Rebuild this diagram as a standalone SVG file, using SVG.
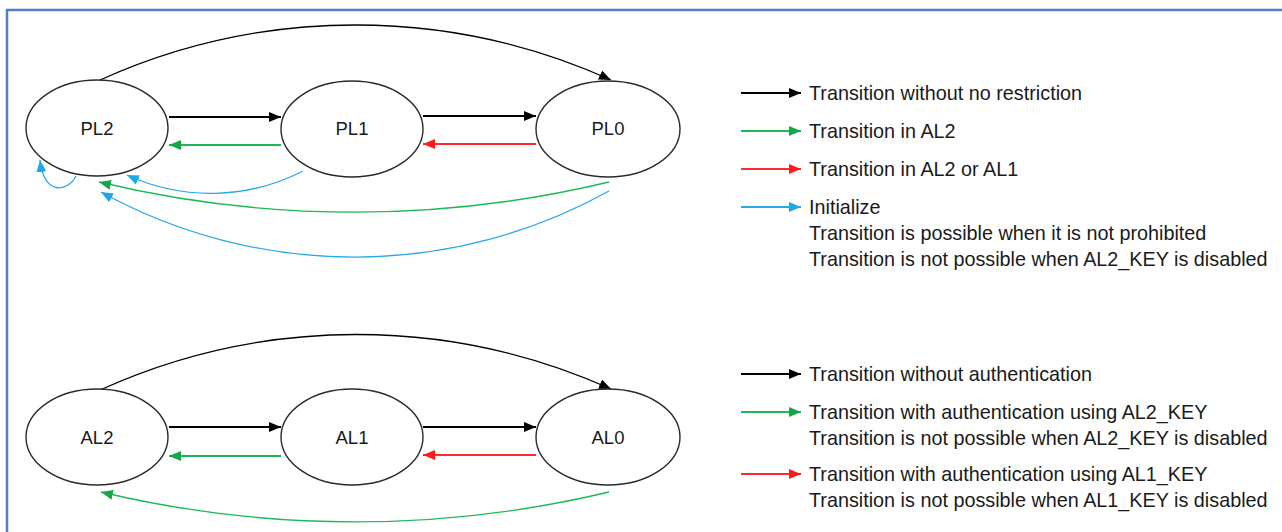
<svg xmlns="http://www.w3.org/2000/svg" width="1282" height="532" viewBox="0 0 1282 532">
  <style>
    .node { fill: #ffffff; stroke: #2a2a2a; stroke-width: 1.4; }
    .label { font-family: "Liberation Sans", Arial, sans-serif; font-size: 18.5px; fill: #1a1a1a; text-anchor: middle; }
    .legend { font-family: "Liberation Sans", Arial, sans-serif; font-size: 19.8px; fill: #1a1a1a; }
    .edge { fill: none; stroke-width: 2; }
    .curve { fill: none; stroke-width: 1.3; }
    .k { stroke: #000000; }
    .g { stroke: #1db954; }
    .r { stroke: #ff2a2a; }
    .b { stroke: #29a8e8; }
  </style>
  <defs>
    <marker id="ak" viewBox="0 0 12 10" refX="12" refY="5" markerWidth="12" markerHeight="10" markerUnits="userSpaceOnUse" orient="auto">
      <path d="M0,0 L12,5 L0,10 Z" fill="#000000"/>
    </marker>
    <marker id="ag" viewBox="0 0 12 10" refX="12" refY="5" markerWidth="12" markerHeight="10" markerUnits="userSpaceOnUse" orient="auto">
      <path d="M0,0 L12,5 L0,10 Z" fill="#12a84a"/>
    </marker>
    <marker id="ar" viewBox="0 0 12 10" refX="12" refY="5" markerWidth="12" markerHeight="10" markerUnits="userSpaceOnUse" orient="auto">
      <path d="M0,0 L12,5 L0,10 Z" fill="#ff1a1a"/>
    </marker>
    <marker id="ab" viewBox="0 0 12 10" refX="12" refY="5" markerWidth="12" markerHeight="10" markerUnits="userSpaceOnUse" orient="auto">
      <path d="M0,0 L12,5 L0,10 Z" fill="#1ea7ea"/>
    </marker>
  </defs>

  <rect width="1282" height="532" fill="#ffffff"/>
  <!-- frame -->
  <path d="M7,532 V10 H1282" fill="none" stroke="#4f81c2" stroke-width="2.5"/>

  <!-- connectors -->
  <g id="connectors">
    <!-- PL chain -->
    <path class="curve k" d="M100,80 A621,621 0 0 1 611,80" marker-end="url(#ak)"/>
    <line class="edge k" x1="169" y1="117" x2="281" y2="117" marker-end="url(#ak)"/>
    <line class="edge g" x1="281" y1="145" x2="169" y2="145" marker-end="url(#ag)"/>
    <line class="edge k" x1="423" y1="116" x2="536" y2="116" marker-end="url(#ak)"/>
    <line class="edge r" x1="536" y1="144" x2="423" y2="144" marker-end="url(#ar)"/>
    <path class="curve b" d="M76,176 C68,192 44,196 40,160" marker-end="url(#ab)"/>
    <path class="curve b" d="M303,171 A201,201 0 0 1 127,175" marker-end="url(#ab)"/>
    <path class="curve g" d="M609,182 A1094,1094 0 0 1 99,182" marker-end="url(#ag)"/>
    <path class="curve b" d="M609,191 A525,525 0 0 1 101,192" marker-end="url(#ab)"/>

    <!-- AL chain -->
    <path class="curve k" d="M100,390 A621,621 0 0 1 611,389" marker-end="url(#ak)"/>
    <line class="edge k" x1="169" y1="427" x2="281" y2="427" marker-end="url(#ak)"/>
    <line class="edge g" x1="281" y1="456" x2="169" y2="456" marker-end="url(#ag)"/>
    <line class="edge k" x1="423" y1="427" x2="536" y2="427" marker-end="url(#ak)"/>
    <line class="edge r" x1="536" y1="455" x2="423" y2="455" marker-end="url(#ar)"/>
    <path class="curve g" d="M609,492 A1094,1094 0 0 1 101,492" marker-end="url(#ag)"/>

    <!-- legend arrows -->
    <line class="edge k" x1="741" y1="93" x2="801" y2="93" marker-end="url(#ak)"/>
    <line class="edge g" x1="741" y1="131" x2="801" y2="131" marker-end="url(#ag)"/>
    <line class="edge r" x1="741" y1="169" x2="801" y2="169" marker-end="url(#ar)"/>
    <line class="edge b" x1="741" y1="207" x2="801" y2="207" marker-end="url(#ab)"/>
    <line class="edge k" x1="741" y1="374" x2="801" y2="374" marker-end="url(#ak)"/>
    <line class="edge g" x1="741" y1="412" x2="801" y2="412" marker-end="url(#ag)"/>
    <line class="edge r" x1="741" y1="474" x2="801" y2="474" marker-end="url(#ar)"/>
  </g>

  <!-- states -->
  <g id="PL2"><ellipse class="node" cx="97" cy="128" rx="71" ry="48"/><text class="label" x="97" y="135">PL2</text></g>
  <g id="PL1"><ellipse class="node" cx="352" cy="129" rx="71" ry="48"/><text class="label" x="352" y="135">PL1</text></g>
  <g id="PL0"><ellipse class="node" cx="608" cy="129" rx="72" ry="48"/><text class="label" x="608" y="135">PL0</text></g>
  <g id="AL2"><ellipse class="node" cx="97" cy="437" rx="71" ry="48"/><text class="label" x="97" y="444">AL2</text></g>
  <g id="AL1"><ellipse class="node" cx="352" cy="437" rx="71" ry="48"/><text class="label" x="352" y="444">AL1</text></g>
  <g id="AL0"><ellipse class="node" cx="608" cy="437" rx="72" ry="48"/><text class="label" x="608" y="444">AL0</text></g>

  <!-- legends -->
  <g id="legend-pl">
    <text class="legend" x="809" y="100">Transition without no restriction</text>
    <text class="legend" x="809" y="138">Transition in AL2</text>
    <text class="legend" x="809" y="176">Transition in AL2 or AL1</text>
    <text class="legend" x="809" y="214">Initialize</text>
    <text class="legend" x="809" y="240">Transition is possible when it is not prohibited</text>
    <text class="legend" x="809" y="266">Transition is not possible when AL2_KEY is disabled</text>
  </g>
  <g id="legend-al">
    <text class="legend" x="809" y="381">Transition without authentication</text>
    <text class="legend" x="809" y="419">Transition with authentication using AL2_KEY</text>
    <text class="legend" x="809" y="445">Transition is not possible when AL2_KEY is disabled</text>
    <text class="legend" x="809" y="481">Transition with authentication using AL1_KEY</text>
    <text class="legend" x="809" y="507">Transition is not possible when AL1_KEY is disabled</text>
  </g>
</svg>
